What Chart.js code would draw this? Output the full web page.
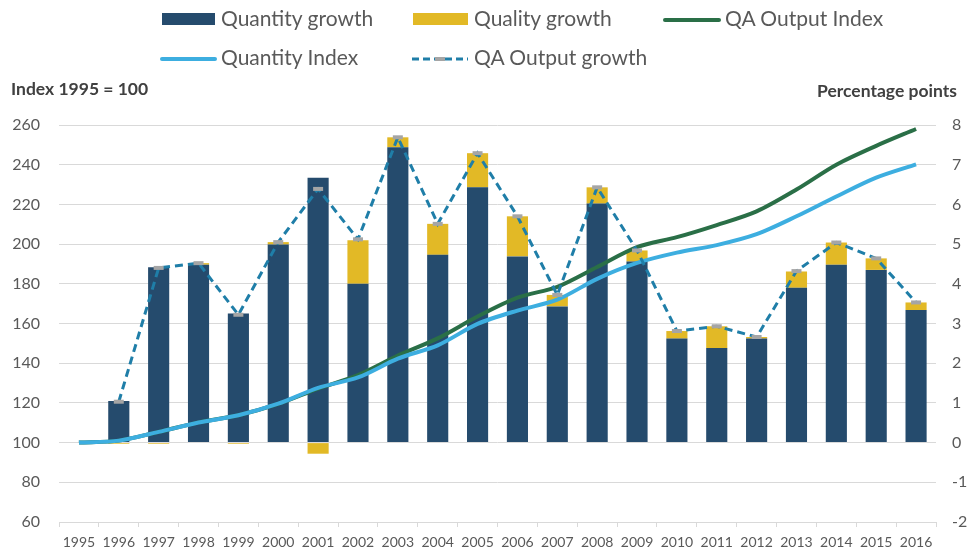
<!DOCTYPE html>
<html>
<head>
<meta charset="utf-8">
<script src="https://cdn.jsdelivr.net/npm/chart.js@4.4.0/dist/chart.umd.min.js"></script>
<style>
  html, body { margin: 0; padding: 0; background: #fff; }
  #wrap { position: relative; width: 969px; height: 554px; font-family: Lato, "Liberation Sans", sans-serif; color: #595959; }
  canvas { position: absolute; left: 0; top: 0; }
  .lg { position: absolute; font-size: 21px; line-height: 24px; white-space: nowrap; color: #595959; }
  .sw { position: absolute; }
  .ttl { position: absolute; font-weight: bold; font-size: 17.5px; line-height: 20px; color: #404040; white-space: nowrap; }
</style>
</head>
<body>
<div id="wrap">
  <canvas id="c" width="969" height="554"></canvas>
  <div class="sw" style="left:162px;top:13px;width:53px;height:12px;background:#254b6d"></div>
  <div class="lg" style="left:221px;top:6px">Quantity growth</div>
  <div class="sw" style="left:413px;top:13px;width:55px;height:12px;background:#e2b926"></div>
  <div class="lg" style="left:474px;top:6px">Quality growth</div>
  <div class="sw" style="left:663px;top:18px;width:58px;height:4px;background:#2a6f47;border-radius:2px"></div>
  <div class="lg" style="left:725px;top:6px">QA Output Index</div>
  <div class="sw" style="left:160px;top:57px;width:57px;height:4px;background:#3daee0;border-radius:2px"></div>
  <div class="lg" style="left:221px;top:45px">Quantity Index</div>
  <svg class="sw" style="left:411px;top:54px" width="58" height="10">
    <line x1="1" y1="5" x2="57" y2="5" stroke="#1f7ea8" stroke-width="3" stroke-dasharray="7,4"/>
    <line x1="24" y1="5" x2="34" y2="5" stroke="#a5a5a5" stroke-width="4"/>
  </svg>
  <div class="lg" style="left:474px;top:45px">QA Output growth</div>
  <div class="ttl" style="left:11px;top:79px">Index 1995 = 100</div>
  <div class="ttl" style="left:817px;top:81px">Percentage points</div>
</div>
<script>
const years = ['1995','1996','1997','1998','1999','2000','2001','2002','2003','2004','2005','2006','2007','2008','2009','2010','2011','2012','2013','2014','2015','2016'];
const quantityGrowth = [null,1.05,4.42,4.48,3.25,4.99,6.67,4.00,7.44,4.73,6.43,4.69,3.43,6.02,4.56,2.62,2.38,2.62,3.90,4.48,4.35,3.34];
const qualityGrowth  = [null,-0.03,-0.03,0.04,-0.03,0.06,-0.28,1.10,0.25,0.78,0.86,1.01,0.29,0.41,0.28,0.19,0.55,0.04,0.41,0.56,0.29,0.19];
const qaOutputGrowth = [null,1.03,4.40,4.52,3.22,5.05,6.39,5.12,7.69,5.51,7.29,5.70,3.72,6.43,4.84,2.81,2.93,2.66,4.32,5.04,4.64,3.53];
const qaOutputIndex  = [100,101.0,105.4,110.2,113.8,119.5,127.2,134.0,143.8,152.5,163.5,173.0,178.5,188.5,198.5,203.5,209.6,216.5,227.5,240.0,249.5,258.0];
const quantityIndex  = [100,101.0,105.4,110.1,113.8,119.6,127.6,132.8,142.3,149.0,159.8,166.5,172.0,182.5,190.5,195.7,199.5,205.0,214.0,224.0,233.5,240.2];
const leftTicks = [60, 260, 20];
const rightTicks = [-2, 8, 1];

const tickFont = { family: 'Lato', size: 16 };
const gridColor = '#d9d9d9';

new Chart(document.getElementById('c'), {
  data: {
    labels: years,
    datasets: [
      { type: 'line', label: 'QA Output growth', data: qaOutputGrowth, yAxisID: 'y1', stack: 'l1', order: 0,
        borderColor: '#1f7ea8', borderWidth: 3, borderDash: [8, 5], tension: 0, fill: false,
        pointStyle: 'line', pointRadius: 5, pointBorderWidth: 4, pointBorderColor: '#a5a5a5', pointBackgroundColor: '#a5a5a5', pointHoverRadius: 5 },
      { type: 'line', label: 'Quantity Index', data: quantityIndex, yAxisID: 'y', order: 1,
        borderColor: '#3daee0', borderWidth: 4, tension: 0.3, pointRadius: 0, fill: false },
      { type: 'line', label: 'QA Output Index', data: qaOutputIndex, yAxisID: 'y', order: 2,
        borderColor: '#2a6f47', borderWidth: 4, tension: 0.3, pointRadius: 0, fill: false },
      { type: 'bar', label: 'Quantity growth', data: quantityGrowth, yAxisID: 'y1', stack: 's1', order: 3,
        backgroundColor: '#254b6d', borderWidth: 0, barPercentage: 0.53, categoryPercentage: 1 },
      { type: 'bar', label: 'Quality growth', data: qualityGrowth, yAxisID: 'y1', stack: 's1', order: 4,
        backgroundColor: '#e2b926', borderWidth: 0, barPercentage: 0.53, categoryPercentage: 1 }
    ]
  },
  options: {
    responsive: false,
    animation: false,
    events: [],
    layout: { padding: { top: 125, left: 0, right: 0, bottom: 0 } },
    plugins: { legend: { display: false }, tooltip: { enabled: false } },
    scales: {
      x: {
        stacked: true,
        offset: true,
        grid: { offset: true, drawOnChartArea: false, drawTicks: true, tickLength: 5, color: gridColor, lineWidth: 1 },
        border: { display: true, color: gridColor, width: 1 },
        ticks: { font: { family: 'Lato', size: 14 }, color: '#595959', padding: 7, maxRotation: 0, autoSkip: false },
        afterFit: (s) => { s.height = 32; }
      },
      y: {
        position: 'left',
        min: leftTicks[0], max: leftTicks[1],
        ticks: { stepSize: leftTicks[2], font: tickFont, color: '#595959', padding: 19 },
        grid: { color: gridColor, lineWidth: 1, drawTicks: false },
        border: { display: false },
        afterFit: (s) => { s.width = 59; }
      },
      y1: {
        position: 'right',
        stacked: true,
        min: rightTicks[0], max: rightTicks[1],
        ticks: { stepSize: rightTicks[2], font: tickFont, color: '#595959', padding: 16 },
        grid: { drawOnChartArea: false, drawTicks: false },
        border: { display: false },
        afterFit: (s) => { s.width = 33; }
      }
    }
  }
});
</script>
</body>
</html>
